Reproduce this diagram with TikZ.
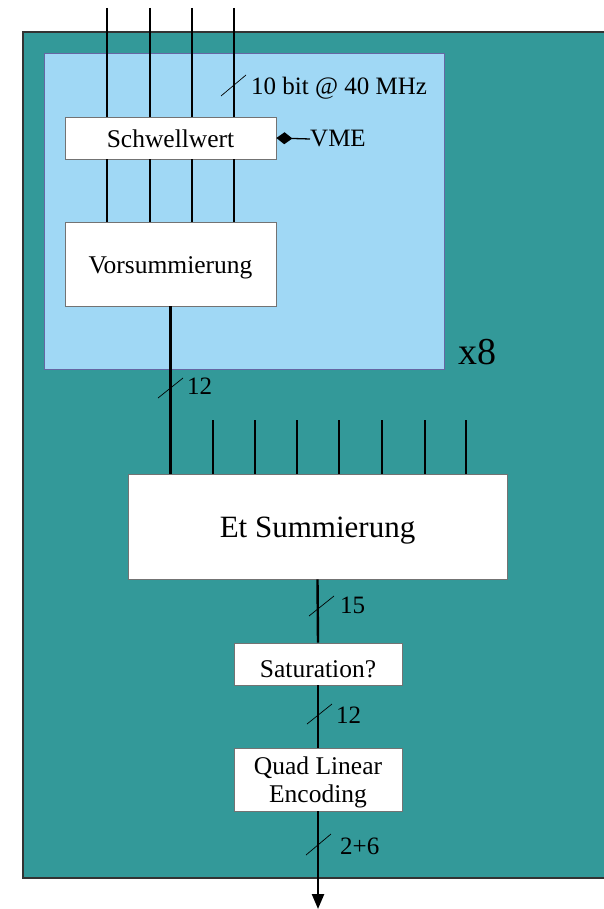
\documentclass[tikz,border=0pt]{standalone}
\usepackage{fontspec}
\setmainfont{Liberation Serif}
\usetikzlibrary{arrows.meta,calc}
\definecolor{tealbg}{RGB}{51,153,153}
\definecolor{lightbluebg}{RGB}{160,216,245}
\newcommand{\lowered}[2]{\raisebox{-#1}[\height][\depth]{#2}}
\begin{document}
\begin{tikzpicture}[x=1pt,y=-1pt,
  box/.style={draw=black!55, fill=white, line width=0.8pt, inner sep=0pt, align=center, font=\fontsize{25.5}{28}\selectfont},
  lbl/.style={font=\fontsize{25}{28}\selectfont, inner sep=0pt, anchor=west},
  thinwire/.style={line width=1.3pt},
  bus/.style={line width=2.4pt},
  slash/.style={line width=0.7pt}]
\useasboundingbox (0,0) rectangle (603,909);
% frames
\filldraw[fill=tealbg, draw=black!80, line width=1.2pt] (23,32) rectangle (640,878);
\filldraw[fill=lightbluebg, draw=black!60!blue!60, line width=0.8pt] (44,53) rectangle (444,369);
% boxes
\node[box, minimum width=211pt, minimum height=42pt] (schw) at (170.5,138) {\lowered{1pt}{Schwellwert}};
\node[box, minimum width=211pt, minimum height=84pt] (vor) at (170.5,264) {\lowered{4pt}{Vorsummierung}};
\node[box, minimum width=379pt, minimum height=105pt, font=\fontsize{31}{34}\selectfont] (et) at (317.5,526.5) {\lowered{4pt}{Et Summierung}};
\node[box, minimum width=168pt, minimum height=42pt] (sat) at (318,664) {\lowered{5pt}{Saturation?}};
\node[box, minimum width=168pt, minimum height=63pt, font=\fontsize{25.5}{28}\selectfont] (qle) at (318,779.5) {\lowered{3pt}{\shortstack{Quad Linear\\[3pt]Encoding}}};
% input wires
\foreach \i/\x in {1/107,2/150,3/192,4/234}{
  \coordinate (t\i) at (\x,8);
  \draw[thinwire] (t\i) -- (schw.north -| t\i);
  \draw[thinwire] (schw.south -| t\i) -- (vor.north -| t\i);
}
% 10 bit label
\node[lbl] (bits) at (251,88) {10 bit @ 40 MHz};
\draw[slash] (221,96) -- (246,75);
% VME
\node[lbl] (vme) at (310,139) {VME};
\draw[line width=1.3pt, {Diamond[length=16pt,width=12pt]}-] (schw.east) -- (vme.west);
% x8
\node[font=\fontsize{38}{40}\selectfont, inner sep=0pt] (x8) at (477,352) {x8};
% Vorsummierung -> Et
\draw[bus] (vor.south) -- (et.north -| vor.south);
\node[lbl] (l12a) at (187,386) {12};
\draw[slash] (158,398) -- (183,378);
% other Et inputs
\foreach \i/\x in {1/213,2/255,3/297,4/339,5/382,6/425,7/466}{
  \coordinate (e\i) at (\x,420);
  \draw[bus] (e\i) -- (et.north -| e\i);
}
% output chain
\draw[bus] (et.south) -- (sat.north);
\node[lbl] (l15) at (340,605) {15};
\draw[slash] (309,616) -- (334,596);
\draw[bus] (sat.south) -- (qle.north);
\node[lbl] (l12b) at (336,715) {12};
\draw[slash] (307,724) -- (332,704);
\coordinate (out) at (318,909);
\draw[bus, -{Triangle[length=15pt,width=12pt]}] (qle.south) -- (out);
\node[lbl] (l26) at (340,846) {2+6};
\draw[slash] (306,855) -- (331,834);
\end{tikzpicture}
\end{document}
